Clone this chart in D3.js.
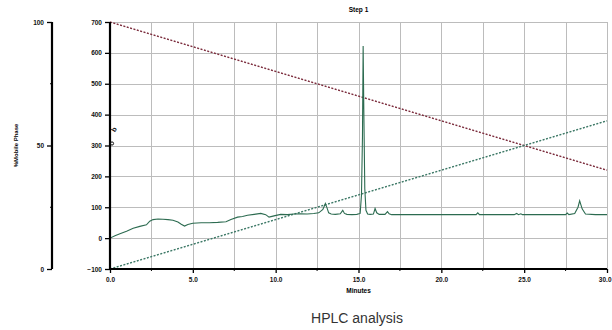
<!DOCTYPE html>
<html>
<head>
<meta charset="utf-8">
<script src="https://cdn.jsdelivr.net/npm/d3@7/dist/d3.min.js"></script>
<style>
  body { margin: 0; background: #fff; }
  svg text { font-family: "Liberation Sans", Arial, sans-serif; }
</style>
</head>
<body>
<svg id="chart" width="612" height="330"></svg>
<script>
// chromatogram (mAU vs minutes)
var chromTime = [0, 0.3, 0.6, 1.0, 1.4, 1.8, 2.2, 2.4, 2.6, 2.9, 3.2, 3.5, 3.8, 4.1, 4.3, 4.5, 4.7, 5.0,
  5.5, 6.0, 6.5, 7.0, 7.3, 7.7, 8.0, 8.3, 8.7, 9.1, 9.4, 9.6, 9.9, 10.3, 10.7, 11.1, 11.5, 11.9, 12.3,
  12.6, 12.85, 13.0, 13.1, 13.2, 13.35, 13.6, 13.9, 14.05, 14.15, 14.3, 14.6, 14.9, 15.1, 15.18, 15.24,
  15.28, 15.32, 15.38, 15.45, 15.55, 15.7, 15.9, 16.0, 16.1, 16.25, 16.6, 16.75, 16.85, 17.0, 18.5,
  20.0, 22.1, 22.2, 22.3, 24.4, 24.55, 24.65, 24.8, 24.9, 25.0, 26.5, 27.5, 27.6, 27.7, 28.05, 28.25,
  28.35, 28.5, 28.7, 29.3, 30.0];
var chromMAU = [0, 8, 14, 22, 32, 38, 43, 55, 60, 62, 61, 60, 58, 52, 45, 39, 44, 48,
  50, 50, 51, 53, 60, 68, 70, 74, 77, 80, 76, 68, 72, 77, 76, 78, 79, 78, 80,
  82, 93, 112, 98, 82, 78, 77, 79, 90, 80, 77, 76, 77, 80, 140, 330,
  622, 420, 160, 90, 78, 77, 78, 96, 82, 77, 77, 86, 79, 76, 76,
  76, 76, 82, 76, 76, 80, 76, 79, 76, 76, 76, 76, 81, 76, 80, 100,
  121, 95, 78, 76, 76];

// gradient program (% mobile phase)
var gradTime = [0, 30];
var pctA = [100, 40];
var pctB = [0, 60];

var yTicks = [-100, 0, 100, 200, 300, 400, 500, 600, 700];
var pctTicks = [0, 50, 100];
var xTicks = [0, 5, 10, 15, 20, 25, 30];
var xGrid = [0, 2.5, 5, 7.5, 10, 12.5, 15, 17.5, 20, 22.5, 25, 27.5, 30];

var svg = d3.select("#chart");

var x = d3.scaleLinear().domain([0, 30]).range([110, 607]);
var y = d3.scaleLinear().domain([-100, 700]).range([269, 22]);
var yPct = d3.scaleLinear().domain([0, 100]).range([269, 22]);

// grid
var grid = svg.append("g").attr("class", "grid");
grid.selectAll(".vgrid")
  .data(xGrid)
  .enter().append("line")
  .attr("class", "vgrid")
  .attr("x1", function(d) { return Math.round(x(d)) + 0.5; })
  .attr("x2", function(d) { return Math.round(x(d)) + 0.5; })
  .attr("y1", y(700)).attr("y2", y(-100))
  .style("stroke", "#bcbcbc").style("stroke-width", "1px");
grid.selectAll(".hgrid")
  .data(yTicks)
  .enter().append("line")
  .attr("class", "hgrid")
  .attr("y1", function(d) { return Math.round(y(d)) + 0.5; })
  .attr("y2", function(d) { return Math.round(y(d)) + 0.5; })
  .attr("x1", x(0)).attr("x2", x(30))
  .style("stroke", "#bcbcbc").style("stroke-width", "1px");

// gradient lines
var gradLine = function(vals) {
  return d3.line()
    .x(function(d, i) { return x(gradTime[i]); })
    .y(function(d) { return yPct(d); })(vals);
};
svg.append("path").attr("d", gradLine(pctA))
  .attr("fill", "none").attr("stroke", "#7d2f3f").attr("stroke-width", 1.4)
  .attr("stroke-dasharray", "2,1.5");
svg.append("path").attr("d", gradLine(pctB))
  .attr("fill", "none").attr("stroke", "#3f7a68").attr("stroke-width", 1.4)
  .attr("stroke-dasharray", "2,1.5");

// chromatogram
var trace = d3.line()
  .x(function(d, i) { return x(chromTime[i]); })
  .y(function(d) { return y(d); });
svg.append("path").attr("d", trace(chromMAU))
  .attr("fill", "none").attr("stroke", "#2c6b50").attr("stroke-width", 1.1);

// axes
var fontSize = "6.5px";

var xAxis = svg.append("g").attr("transform", "translate(0," + y(-100) + ")");
xAxis.call(d3.axisBottom(x).tickValues(xTicks).tickSize(4).tickFormat(d3.format(".1f")));
xAxis.append("g").selectAll("line")
  .data(d3.range(2.5, 30, 5)).enter().append("line")
  .attr("x1", function(d) { return x(d); }).attr("x2", function(d) { return x(d); })
  .attr("y1", 0).attr("y2", 2).attr("stroke", "#000");

var yAxis = svg.append("g").attr("transform", "translate(" + x(0) + ",0)");
yAxis.call(d3.axisLeft(y).tickValues(yTicks).tickSize(5).tickFormat(d3.format("d")));

var pAxis = svg.append("g").attr("transform", "translate(52,0)");
pAxis.call(d3.axisLeft(yPct).tickValues(pctTicks).tickSize(5));
pAxis.append("g").selectAll("line")
  .data([25, 75]).enter().append("line")
  .attr("y1", function(d) { return yPct(d); }).attr("y2", function(d) { return yPct(d); })
  .attr("x1", 0).attr("x2", -2).attr("stroke", "#000");

[xAxis, yAxis, pAxis].forEach(function(a) {
  a.select(".domain").attr("stroke-width", 2.2).attr("stroke", "#000");
  a.selectAll(".tick line").attr("stroke-width", 1.3);
  a.selectAll("text").attr("font-size", fontSize).attr("font-weight", "bold")
    .attr("font-family", "Liberation Sans, Arial, sans-serif").attr("fill", "#111");
});
xAxis.select(".domain").attr("d", "M" + x(0) + ",0H" + x(30));
yAxis.select(".domain").attr("d", "M0," + y(-100) + "V" + y(700));
pAxis.select(".domain").attr("d", "M0," + yPct(0) + "V" + yPct(100));
xAxis.selectAll(".tick text").attr("dy", "0.9em");
// keep the last minute label inside the page
xAxis.selectAll(".tick text").filter(function(d) { return d === 30; })
  .attr("text-anchor", "end").attr("x", 4);

// event marker at injection
svg.append("circle").attr("cx", x(0) + 2).attr("cy", y(300) - 2).attr("r", 1.6)
  .attr("fill", "none").attr("stroke", "#111").attr("stroke-width", 1);
svg.append("text").attr("transform", "translate(" + (x(0) + 5) + "," + (y(300) - 13) + ") rotate(-60)")
  .attr("font-size", "7px").attr("font-weight", "bold").attr("fill", "#111").text("b");

// labels
svg.append("text").attr("x", x(15)).attr("y", 12).attr("text-anchor", "middle")
  .attr("font-size", "6.5px").attr("font-weight", "bold").text("Step 1");
svg.append("text").attr("x", x(15)).attr("y", 293).attr("text-anchor", "middle")
  .attr("font-size", "6.5px").attr("font-weight", "bold").text("Minutes");
svg.append("text").attr("transform", "translate(18," + yPct(50) + ") rotate(-90)")
  .attr("text-anchor", "middle").attr("font-size", "6px").attr("font-weight", "bold")
  .text("%Mobile Phase");

svg.append("text").attr("x", 357).attr("y", 323).attr("text-anchor", "middle")
  .attr("font-family", "Roboto, sans-serif").attr("font-weight", 300)
  .attr("font-size", "14px").attr("fill", "#333").text("HPLC analysis");
</script>
</body>
</html>
